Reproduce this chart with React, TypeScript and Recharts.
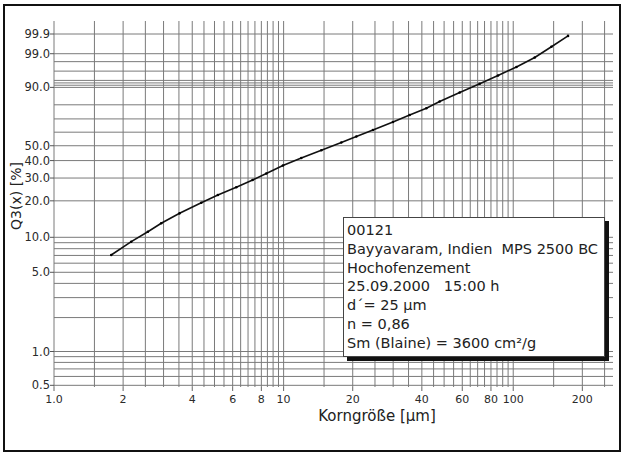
import React from 'react';
import { LineChart, Line, XAxis, YAxis, ReferenceLine } from 'recharts';

// Particle size x [µm] and cumulative passing Q3(x) [%]
const particleSizes = [1.775, 2.17, 2.563, 2.931, 3.523, 4.379, 5.173, 6.221, 7.328, 8.407, 9.93, 11.94, 14.6, 17.84, 20.74, 24.5, 29.94, 35.4, 41.85, 47.83, 58.47, 71.46, 85.87, 103.3, 124.1, 146.7, 173.3];
const q3Values = [7.06, 9.18, 11.15, 13.11, 15.85, 19.32, 22.24, 25.53, 29.0, 32.4, 36.97, 41.64, 46.8, 52.33, 56.76, 61.65, 67.69, 72.87, 77.63, 82.14, 87.42, 91.62, 94.72, 96.99, 98.59, 99.51, 99.87];

const xTickValues = [1, 2, 4, 6, 8, 10, 20, 40, 60, 80, 100, 200];
const xTickLabels = ['1.0', '2', '4', '6', '8', '10', '20', '40', '60', '80', '100', '200'];
const yTickValues = [0.5, 1, 5, 10, 20, 30, 40, 50, 90, 99, 99.9];
const yTickLabels = ['0.5', '1.0', '5.0', '10.0', '20.0', '30.0', '40.0', '50.0', '90.0', '99.0', '99.9'];

const xGridValues = [1, 1.5, 2, 2.5, 3, 3.5, 4, 4.5, 5, 5.5, 6, 6.5, 7, 7.5, 8, 8.5, 9, 9.5, 10,
  15, 20, 25, 30, 35, 40, 45, 50, 55, 60, 65, 70, 75, 80, 85, 90, 95, 100, 150, 200, 250];
const yGridValues = [99.9, 99, 98, 96, 93, 92, 91, 90, 80, 70, 60, 50, 40, 30, 20, 10, 9, 8, 7, 6, 5, 4, 3, 2, 1, 0.9, 0.8, 0.7, 0.6, 0.5];

const xDomain = [1, 272];
const yDomainPercent = [0.483, 99.988];

const infoLines = [
  '00121',
  'Bayyavaram, Indien  MPS 2500 BC',
  'Hochofenzement',
  '25.09.2000   15:00 h',
  'd´= 25 µm',
  'n = 0,86',
  'Sm (Blaine) = 3600 cm²/g',
];

// RRSB (Rosin-Rammler-Sperling-Bennett) ordinate transform
const rrsb = (q: number) => Math.log(-Math.log(1 - q / 100));

const chartData = particleSizes.map((s, i) => ({ size: s, q: rrsb(q3Values[i]) }));

const FONT = '"DejaVu Sans", "Liberation Sans", Arial, sans-serif';
const GRID = '#7a7a7a';

export default function App() {
  const yTickTransformed = yTickValues.map(rrsb);
  const yLabelFor = (v: number) => {
    let best = 0;
    let bd = Infinity;
    yTickTransformed.forEach((t, i) => {
      const d = Math.abs(t - v);
      if (d < bd) { bd = d; best = i; }
    });
    return yTickLabels[best];
  };
  const xLabelFor = (v: number) => {
    const i = xTickValues.findIndex((t) => Math.abs(t - v) < 1e-9);
    return i >= 0 ? xTickLabels[i] : String(v);
  };

  return (
    <div style={{ position: 'absolute', left: 0, top: 0, width: 624, height: 455, background: '#fff', fontFamily: FONT }}>
      <LineChart
        width={624}
        height={455}
        data={chartData}
        margin={{ top: 21, right: 11, bottom: 38, left: 0 }}
      >
        {xGridValues.map((v) => (
          <ReferenceLine key={'vx' + v} x={v} stroke={GRID} strokeWidth={1} ifOverflow="visible" />
        ))}
        {yGridValues.map((v) => (
          <ReferenceLine key={'hy' + v} y={rrsb(v)} stroke={GRID} strokeWidth={1} ifOverflow="visible" />
        ))}
        <XAxis
          dataKey="size"
          type="number"
          scale="log"
          domain={xDomain}
          allowDataOverflow
          ticks={xTickValues}
          tickFormatter={xLabelFor}
          interval={0}
          height={30}
          axisLine={false}
          tickSize={4}
          tickMargin={4}
          tickLine={{ stroke: '#666' }}
          tick={{ fontSize: 11, fontFamily: FONT, fill: '#2a2a2a' }}
        />
        <YAxis
          type="number"
          domain={[rrsb(yDomainPercent[0]), rrsb(yDomainPercent[1])]}
          allowDataOverflow
          ticks={yTickTransformed}
          tickFormatter={yLabelFor}
          interval={0}
          width={54}
          axisLine={false}
          tickSize={4}
          tickMargin={0}
          tickLine={{ stroke: '#555' }}
          tick={{ fontSize: 11.5, fontFamily: FONT, fill: '#2a2a2a' }}
        />
        <Line
          dataKey="q"
          type="linear"
          stroke="#111"
          strokeWidth={1.6}
          dot={{ r: 1.3, fill: '#000', stroke: 'none' }}
          isAnimationActive={false}
        />
      </LineChart>

      {/* outer frame */}
      <div style={{ position: 'absolute', left: 3, top: 4, width: 614, height: 444, border: '2px solid #111', pointerEvents: 'none' }} />

      {/* axis titles */}
      <div style={{ position: 'absolute', left: 377, top: 416, transform: 'translate(-50%, -50%)', fontSize: 15, color: '#222', whiteSpace: 'nowrap' }}>
        Korngröße [µm]
      </div>
      <div style={{ position: 'absolute', left: 16, top: 196, transform: 'translate(-50%, -50%) rotate(-90deg)', fontSize: 14, color: '#222', whiteSpace: 'nowrap' }}>
        Q3(x) [%]
      </div>

      {/* info box */}
      <div style={{
        position: 'absolute', left: 343, top: 217, width: 257, height: 135,
        border: '1px solid #444', background: '#fff', boxShadow: '4px 4px 0 #111',
        paddingTop: 3, paddingLeft: 3, boxSizing: 'content-box' as const,
      }}>
        {infoLines.map((t, i) => (
          <div key={i} style={{ fontSize: 14.5, lineHeight: '18.8px', color: '#222', whiteSpace: 'pre' }}>{t}</div>
        ))}
      </div>
    </div>
  );
}
